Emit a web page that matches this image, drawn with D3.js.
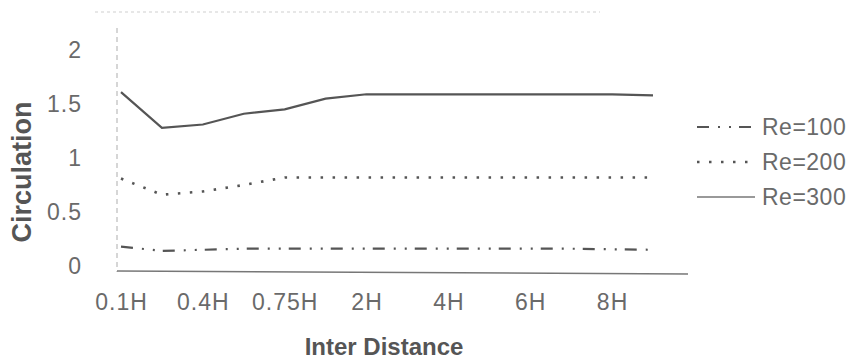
<!DOCTYPE html>
<html>
<head>
<meta charset="utf-8">
<script src="https://cdn.jsdelivr.net/npm/d3@7/dist/d3.min.js"></script>
<style>
  html, body { margin:0; padding:0; background:#fff; }
  svg { display:block; font-family: Arial, "Liberation Sans", sans-serif; }
</style>
</head>
<body>
<svg id="chart" width="853" height="363"></svg>
<script>
// categories along the x axis (only every other one is labelled)
const categories = ['0.1H','0.25H','0.4H','0.5H','0.75H','1H','2H','3H','4H','5H','6H','7H','8H','9H']
const xLabels = ['0.1H','0.4H','0.75H','2H','4H','6H','8H']
const yTicks = [0, 0.5, 1, 1.5, 2]

const re100 = [0.18, 0.14, 0.15, 0.16, 0.16, 0.16, 0.16, 0.16, 0.16, 0.16, 0.16, 0.16, 0.155, 0.15]
const re200 = [0.81, 0.66, 0.69, 0.75, 0.82, 0.82, 0.82, 0.82, 0.82, 0.82, 0.82, 0.82, 0.82, 0.82]
const re300 = [1.61, 1.28, 1.31, 1.41, 1.45, 1.55, 1.59, 1.59, 1.59, 1.59, 1.59, 1.59, 1.59, 1.58]

const series = [
  { name:'Re=100', values: re100, dash:'12,9,2,9,2,8', width:2.2 },
  { name:'Re=200', values: re200, dash:'2.5,9.5', width:2.6 },
  { name:'Re=300', values: re300, dash:null, width:2.2 }
]

const svg = d3.select('#chart')
const ink = '#555'
const label = '#6a6a6a'

const x = d3.scalePoint().domain(categories).range([121, 653])
const y = d3.scaleLinear().domain([0, 2]).range([266, 50])

// faint frame bits left over from the original
svg.append('line')
  .attr('x1', 95).attr('x2', 600).attr('y1', 12).attr('y2', 12)
  .attr('stroke', '#d0d0d0').attr('stroke-width', 1.2).attr('stroke-dasharray', '3,3')
svg.append('line')
  .attr('x1', 117).attr('x2', 117).attr('y1', 28).attr('y2', 272)
  .attr('stroke', '#bbb').attr('stroke-width', 1.2).attr('stroke-dasharray', '5,4')
// category axis line
svg.append('line')
  .attr('x1', 117).attr('x2', 688).attr('y1', 271).attr('y2', 274)
  .attr('stroke', '#777').attr('stroke-width', 1.4)

// axes
const gx = svg.append('g').attr('transform', 'translate(0,272)')
  .call(d3.axisBottom(x).tickValues(xLabels).tickSize(0).tickPadding(22))
gx.select('.domain').remove()
gx.selectAll('text').attr('font-size', 23).attr('fill', label).attr('letter-spacing', 1)
  .attr('font-family', 'Arial, "Liberation Sans", sans-serif')

const gy = svg.append('g').attr('transform', 'translate(117,0)')
  .call(d3.axisLeft(y).tickValues(yTicks).tickSize(0).tickPadding(35).tickFormat(d3.format('~g')))
gy.select('.domain').remove()
gy.selectAll('text').attr('font-size', 23).attr('fill', label).attr('letter-spacing', 1)
  .attr('font-family', 'Arial, "Liberation Sans", sans-serif')

// lines
const line = d3.line().x((d, i) => x(categories[i])).y(d => y(d))
svg.append('g').selectAll('path').data(series).join('path')
  .attr('d', d => line(d.values))
  .attr('fill', 'none')
  .attr('stroke', ink)
  .attr('stroke-width', d => d.width)
  .attr('stroke-dasharray', d => d.dash)

// legend
const lg = svg.append('g').selectAll('g').data(series).join('g')
  .attr('transform', (d, i) => `translate(697,${127 + i*35})`)
lg.append('line')
  .attr('x1', 0).attr('x2', 58).attr('y1', 0).attr('y2', 0)
  .attr('stroke', (d, i) => i === 2 ? '#777' : ink)
  .attr('stroke-width', d => d.dash ? d.width : 1.6)
  .attr('stroke-dasharray', d => d.dash)
lg.append('text')
  .attr('x', 65).attr('dy', '0.35em')
  .attr('font-size', 23).attr('fill', label).attr('letter-spacing', 0.5)
  .text(d => d.name)

// titles
svg.append('text')
  .attr('x', 384).attr('y', 355).attr('text-anchor', 'middle')
  .attr('font-size', 24).attr('font-weight', 'bold').attr('fill', ink)
  .text('Inter Distance')
svg.append('text')
  .attr('transform', 'translate(31,172) rotate(-90)').attr('text-anchor', 'middle')
  .attr('font-size', 27).attr('font-weight', 'bold').attr('fill', ink)
  .text('Circulation')
</script>
</body>
</html>
